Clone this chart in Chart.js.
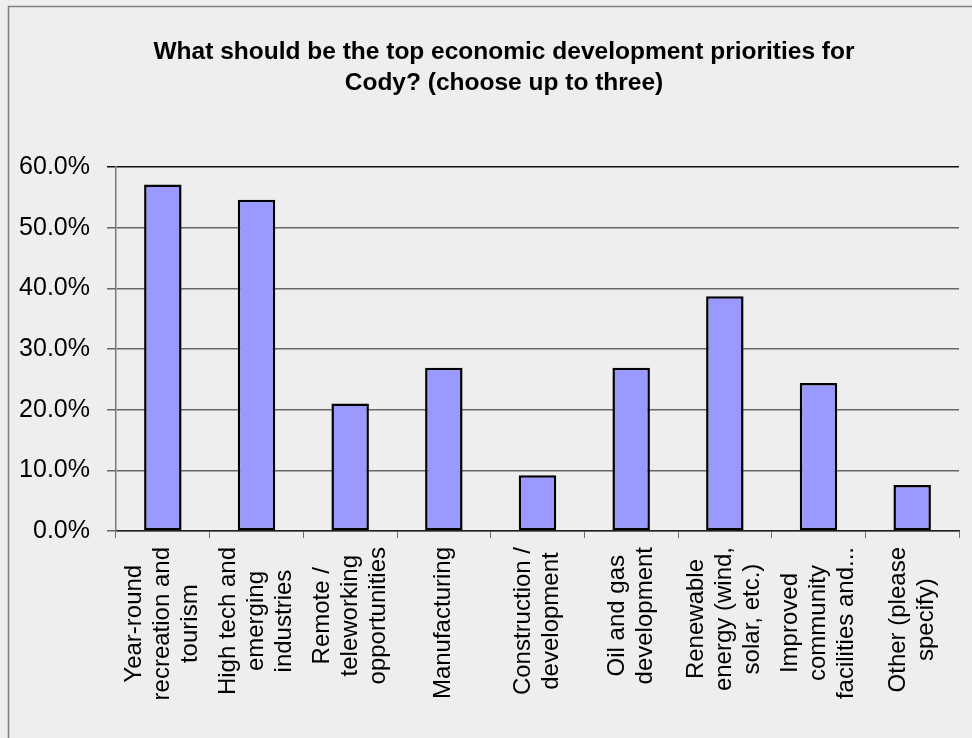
<!DOCTYPE html>
<html>
<head>
<meta charset="utf-8">
<title>Cody economic development priorities</title>
<script src="https://cdn.jsdelivr.net/npm/chart.js@4.4.1/dist/chart.umd.min.js"></script>
<style>
  html, body { margin: 0; padding: 0; background: #eeeeee; }
  #bar-graph { display: block; }
</style>
</head>
<body>
<canvas id="bar-graph" width="972" height="738"></canvas>
<script>
// answer options, one array entry per printed line
const categories = [
    ['Year-round', 'recreation and', 'tourism'],
    ['High tech and', 'emerging', 'industries'],
    ['Remote /', 'teleworking', 'opportunities'],
    ['Manufacturing'],
    ['Construction /', 'development'],
    ['Oil and gas', 'development'],
    ['Renewable', 'energy (wind,', 'solar, etc.)'],
    ['Improved', 'community', 'facilities and...'],
    ['Other (please', 'specify)']
];
// share of respondents, in percent
const percentages = [57.1, 54.6, 21.0, 26.9, 9.2, 26.9, 38.7, 24.4, 7.6];
const yTicks = [0, 10, 20, 30, 40, 50, 60];

const titleLines = [
    'What should be the top economic development priorities for',
    'Cody? (choose up to three)'
];

const FONT = '"Liberation Sans", Arial, Helvetica, sans-serif';
Chart.defaults.font.family = FONT;
Chart.defaults.color = '#000';

// grey page with the frame on the top and left edges
const chartFrame = {
    id: 'chartFrame',
    beforeDraw(chart) {
        const ctx = chart.ctx;
        ctx.save();
        ctx.fillStyle = '#eeeeee';
        ctx.fillRect(0, 0, chart.width, chart.height);
        ctx.strokeStyle = '#7f7f7f';
        ctx.lineWidth = 1.5;
        ctx.beginPath();
        ctx.moveTo(8.5, chart.height);
        ctx.lineTo(8.5, 6.5);
        ctx.lineTo(chart.width, 6.5);
        ctx.stroke();
        ctx.restore();
    }
};

// two-line title, sits a little right of the page centre
const chartTitle = {
    id: 'chartTitle',
    afterDraw(chart) {
        const ctx = chart.ctx;
        ctx.save();
        ctx.font = 'bold 24.5px ' + FONT;
        ctx.fillStyle = '#000';
        ctx.textAlign = 'center';
        ctx.textBaseline = 'middle';
        titleLines.forEach((line, i) => {
            ctx.fillText(line, 504, 52 + i * 31);
        });
        ctx.restore();
    }
};

// vertical category labels, lines centred on each other
const categoryLabels = {
    id: 'categoryLabels',
    afterDraw(chart) {
        const ctx = chart.ctx;
        const x = chart.scales.x;
        const lineHeight = 28;
        ctx.save();
        ctx.font = '24px ' + FONT;
        ctx.fillStyle = '#000';
        ctx.textAlign = 'center';
        ctx.textBaseline = 'middle';
        categories.forEach((lines, i) => {
            const px = x.getPixelForValue(i);
            const widest = Math.max(...lines.map(l => ctx.measureText(l).width));
            const py = x.top + 16 + widest / 2;
            lines.forEach((line, j) => {
                ctx.save();
                ctx.translate(px + (j - (lines.length - 1) / 2) * lineHeight, py);
                ctx.rotate(-Math.PI / 2);
                ctx.fillText(line, 0, 0);
                ctx.restore();
            });
        });
        ctx.restore();
    }
};

const canvas = document.querySelector('#bar-graph');

const bar_graph = new Chart(canvas, {
    type: 'bar',
    data: {
        labels: categories,
        datasets: [
            {
                data: percentages,
                backgroundColor: '#9999ff',
                borderColor: '#000',
                borderWidth: 2.5,
                borderSkipped: false,
                barPercentage: 0.4,
                categoryPercentage: 1,
            }
        ]
    },
    options: {
        responsive: false,
        animation: false,
        layout: {
            padding: { left: 0, right: 13, top: 167, bottom: 0 }
        },
        plugins: {
            legend: { display: false },
            tooltip: { enabled: false },
            title: { display: false }
        },
        scales: {
            x: {
                offset: true,
                grid: {
                    offset: true,
                    drawOnChartArea: false,
                    drawTicks: true,
                    tickLength: 7,
                    color: '#6b6b6b',
                },
                border: { color: '#222', width: 1.5 },
                ticks: { display: false },
                afterFit(scale) { scale.height = 207; }
            },
            y: {
                min: yTicks[0],
                max: yTicks[yTicks.length - 1],
                ticks: {
                    stepSize: yTicks[1] - yTicks[0],
                    padding: 17,
                    font: { size: 25 },
                    color: '#000',
                    callback: v => v.toFixed(1) + '%'
                },
                grid: {
                    color: ctx => ctx.tick && ctx.tick.value === 60 ? '#111' : '#666',
                    lineWidth: 1.5,
                    tickLength: 9,
                },
                border: { color: '#7a7a7a', width: 1.5 },
                afterFit(scale) { scale.width = 116; }
            }
        }
    },
    plugins: [chartFrame, chartTitle, categoryLabels]
});
</script>
</body>
</html>
